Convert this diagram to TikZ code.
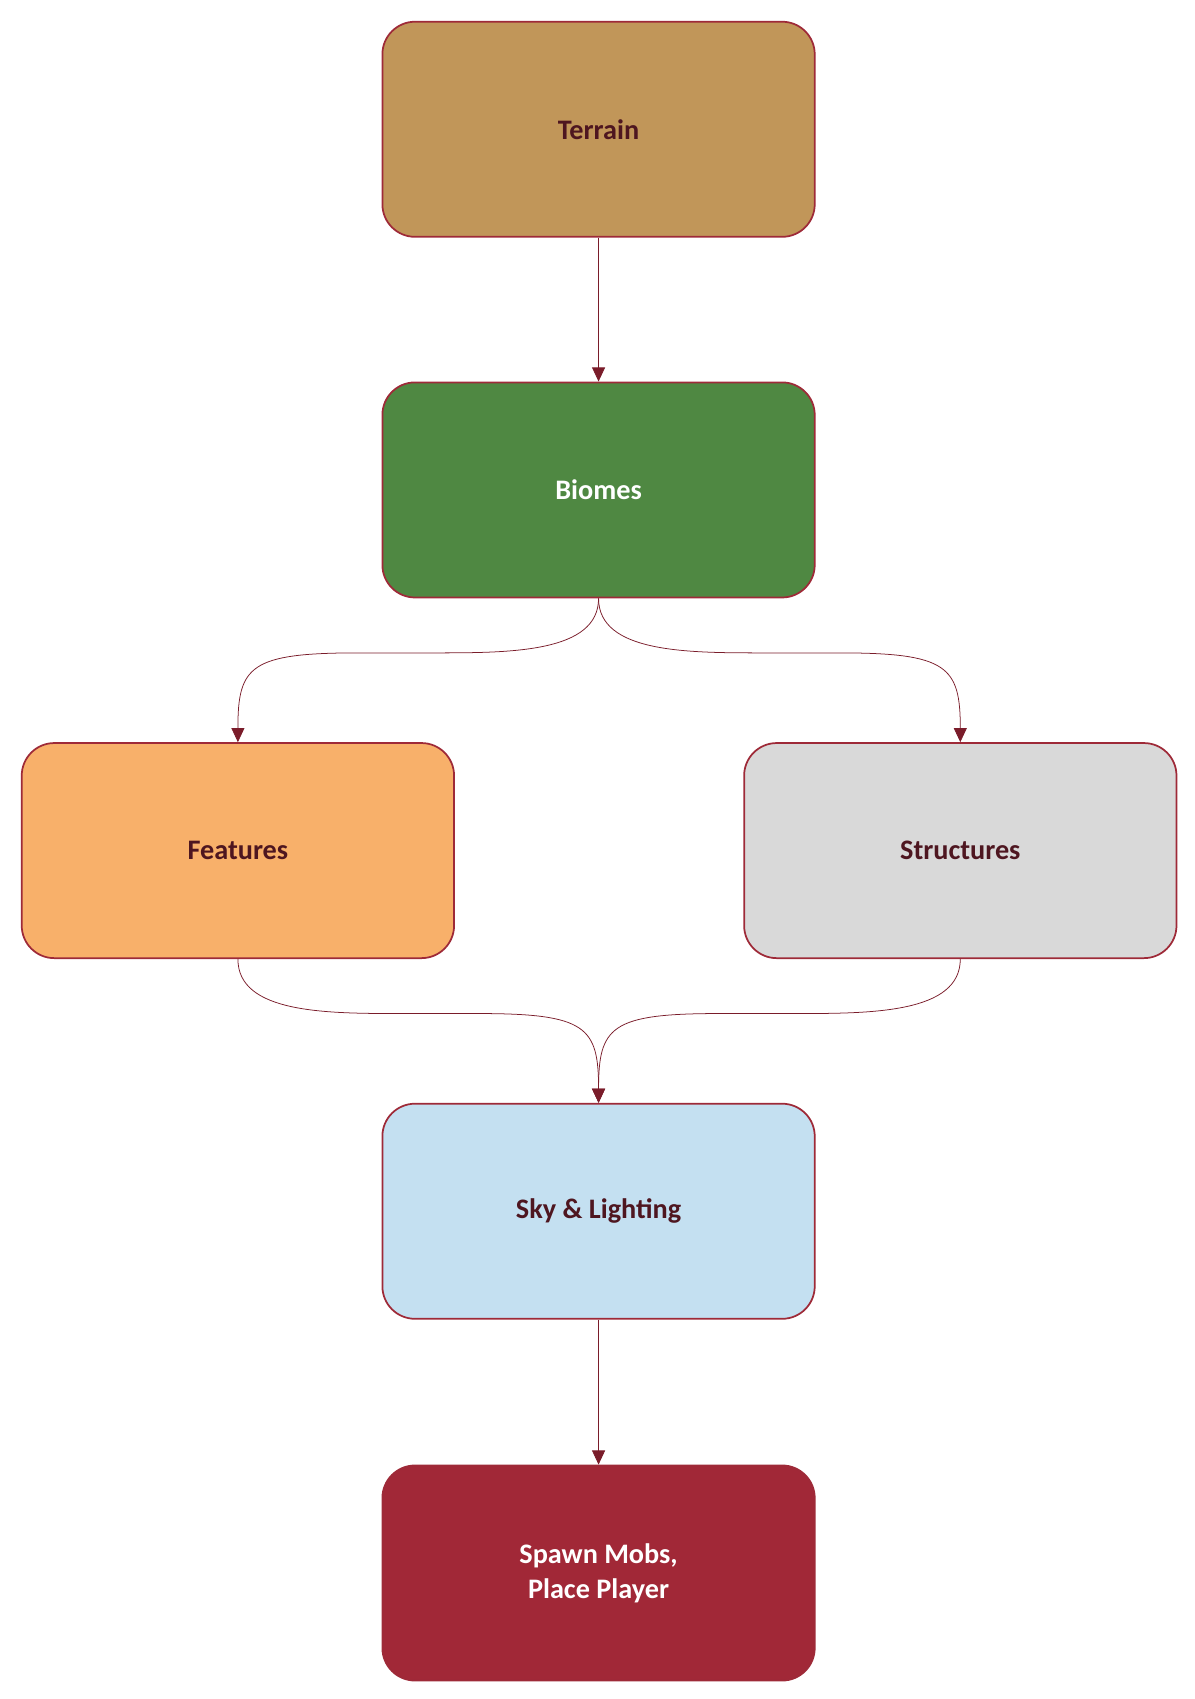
\documentclass[tikz,border=0pt]{standalone}
\usepackage{fontspec}
\setmainfont{Carlito}
\usetikzlibrary{arrows.meta}
\definecolor{bord}{HTML}{9E2A38}
\definecolor{arr}{HTML}{7A1C2A}
\definecolor{txt}{HTML}{4E1620}
\definecolor{cT}{HTML}{C19659}
\definecolor{cB}{HTML}{4F8842}
\definecolor{cF}{HTML}{F8B06A}
\definecolor{cS}{HTML}{D9D9D9}
\definecolor{cK}{HTML}{C4E0F1}
\definecolor{cM}{HTML}{A12837}
\begin{document}
\begin{tikzpicture}[x=1pt,y=-1pt,
 box/.style={draw=bord,line width=1.6pt,rounded corners=30pt,minimum width=398pt,minimum height=198pt,inner sep=0pt,font=\bfseries\fontsize{26}{32}\selectfont,text=txt,align=center},
 con/.style={draw=arr,line width=0.7pt,-{Triangle[length=13pt,width=12pt]}}]
\useasboundingbox (0,0) rectangle (1100,1564);
\node[box,fill=cT] (t) at (551,119) {Terrain};
\node[box,fill=cB,text=white] (b) at (551,451) {Biomes};
\node[box,fill=cF] (f) at (219,783) {Features};
\node[box,fill=cS] (s) at (884,783) {Structures};
\node[box,fill=cK] (k) at (551,1115) {Sky \& Lighting};
\node[box,fill=cM,text=white] (m) at (551,1448) {Spawn Mobs,\\Place Player};
\draw[con] (t) -- (b);
\draw[con] (k) -- (m);
\draw[con] (b.south) .. controls +(0,50) and +(70,0) .. (400,601) -- (330,601) .. controls +(-100,0) and +(0,-70) .. (f.north);
\draw[con] (b.south) .. controls +(0,50) and +(-70,0) .. (702,601) -- (772,601) .. controls +(100,0) and +(0,-70) .. (s.north);
\draw[con] (f.south) .. controls +(0,50) and +(-70,0) .. (370,933) -- (440,933) .. controls +(100,0) and +(0,-70) .. (k.north);
\draw[con] (s.south) .. controls +(0,50) and +(70,0) .. (732,933) -- (662,933) .. controls +(-100,0) and +(0,-70) .. (k.north);
\end{tikzpicture}
\end{document}
